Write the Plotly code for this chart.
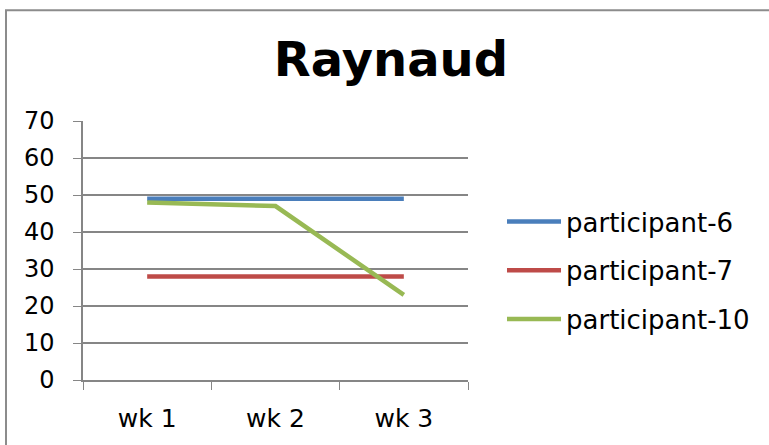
import plotly.graph_objects as go

# data
weeks = ["wk 1", "wk 2", "wk 3"]
p6 = [49, 49, 49]
p7 = [28, 28, 28]
p10 = [48, 47, 23]

series = [
    ("participant-6", p6, "#4A7EBB"),
    ("participant-7", p7, "#BE4B48"),
    ("participant-10", p10, "#98B954"),
]

W, H = 769, 445
ml, mr, mt, mb = 83, 301, 121, 62
pw, ph = W - ml - mr, H - mt - mb

font = "Verdana, DejaVu Sans, sans-serif"

fig = go.Figure()
for i, (name, vals, col) in enumerate(series):
    fig.add_trace(go.Scatter(
        x=weeks, y=vals, name=name, mode="lines",
        line=dict(color=col, width=4.5),
        legendgroup=str(i),
    ))

fig.update_layout(
    width=W, height=H,
    margin=dict(l=ml, r=mr, t=mt, b=mb),
    paper_bgcolor="white", plot_bgcolor="white",
    font=dict(family=font, size=23, color="black"),
    title=dict(text="<b>Raynaud</b>", font=dict(size=48, family=font, color="black"),
               x=391 / W, xanchor="center", xref="container",
               y=1 - 59 / H, yanchor="middle", yref="container"),
    legend=dict(x=502 / W, xanchor="left", xref="container",
                y=1 - 198 / H, yanchor="top", yref="container",
                tracegroupgap=12, itemwidth=54, font=dict(size=26, family=font),
                bgcolor="rgba(0,0,0,0)"),
    showlegend=True,
)

fig.update_xaxes(
    type="category", range=[-0.5, 2.5], tickson="boundaries",
    ticks="outside", ticklen=8, tickcolor="#868686",
    showline=True, linecolor="#868686", linewidth=1.5,
    showgrid=False, tickfont=dict(size=25), ticklabelstandoff=15,
)
fig.update_yaxes(
    range=[0, 70], dtick=10, ticks="outside", ticklen=8, tickcolor="#868686",
    showline=True, linecolor="#868686", linewidth=1.5,
    showgrid=True, gridcolor="#868686", gridwidth=1.5,
    zeroline=False, tickfont=dict(size=24), ticklabelstandoff=14,
)

# outer chart border (only top and left edges fall inside the image)
fig.add_shape(type="rect", xref="paper", yref="paper",
              x0=(6 - ml) / pw, x1=(W + 20 - ml) / pw,
              y0=-(mb + 20) / ph, y1=(383 - 9) / ph,
              line=dict(color="#8C8C8C", width=2), layer="below")

fig.write_html("out.html", config={"displayModeBar": False},
               post_script="document.body.style.margin='0';")
